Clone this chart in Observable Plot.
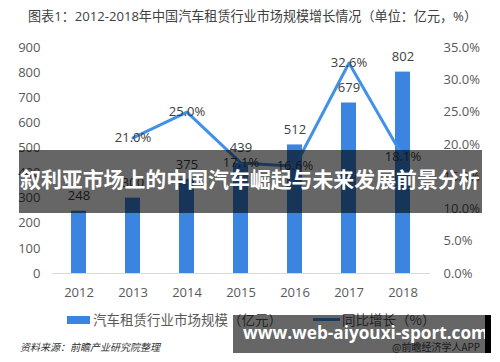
<!DOCTYPE html>
<html>
<head>
<meta charset="utf-8">
<script src="https://cdn.jsdelivr.net/npm/d3@7"></script>
<script src="https://cdn.jsdelivr.net/npm/@observablehq/plot@0.6"></script>
<style>
  html, body { margin: 0; padding: 0; background: #fff; }
  #root { position: relative; width: 500px; height: 362px; overflow: hidden; font-family: "Open Sans", "Noto Sans CJK SC", sans-serif; }
  #title { position: absolute; left: 28px; top: 6px; font-size: 13.1px; color: #404040; white-space: nowrap; font-family: "Open Sans", "Noto Sans CJK SC", sans-serif; }
  #chart { position: absolute; left: 0; top: 0; }
  .legend { position: absolute; top: 309px; font-size: 13.5px; color: #595959; white-space: nowrap; font-family: "Noto Sans CJK SC", sans-serif; }
  .swatch { position: absolute; }
  #source { position: absolute; left: 20px; top: 339px; font-size: 10px; color: #333; font-style: italic; white-space: nowrap; font-family: "Noto Sans CJK SC", sans-serif; }
  #app { position: absolute; left: 392px; top: 339px; font-size: 10px; color: #444; white-space: nowrap; font-family: "Noto Sans CJK SC", sans-serif; }
  #band1 { position: absolute; left: 19px; top: 150px; width: 463px; height: 63px; background: rgba(0,0,0,0.6); }
  #band1 span { position: absolute; left: 1px; top: 15px; font-size: 20.9px; font-weight: bold; color: #fff; white-space: nowrap; line-height: 1.3; font-family: "Noto Sans CJK SC", sans-serif; }
  #band2 { position: absolute; left: 233px; top: 315px; width: 252px; height: 38px; background: rgba(0,0,0,0.6); }
  #strip { position: absolute; left: 485px; top: 315px; width: 6px; height: 38px; background: #000; }
  #band2 span { position: absolute; left: 10px; top: 8px; font-size: 17.2px; font-weight: bold; color: #fff; white-space: nowrap; line-height: 1.2; font-family: "Open Sans", sans-serif; }
</style>
</head>
<body>
<div id="root">
  <div id="chart"></div>
  <div id="title">图表1：2012-2018年中国汽车租赁行业市场规模增长情况（单位：亿元，%）</div>
  <div class="swatch" id="sw1" style="left:67px; top:316px; width:23px; height:8px;"></div>
  <div class="legend" style="left:93px;">汽车租赁行业市场规模（亿元）</div>
  <div class="swatch" id="sw2" style="left:313px; top:318px; width:27px; height:3px;"></div>
  <div class="legend" style="left:342px;">同比增长（%）</div>
  <div id="source">资料来源：前瞻产业研究院整理</div>
  <div id="app">@前瞻经济学人APP</div>
  <div id="band1"><span>叙利亚市场上的中国汽车崛起与未来发展前景分析</span></div>
  <div id="band2"><span>www.web-aiyouxi-sport.com</span></div>
  <div id="strip"></div>
</div>
<script>
// ---- data ----
const years = ["2012", "2013", "2014", "2015", "2016", "2017", "2018"];
const marketSize = [248, 300, 375, 439, 512, 679, 802];
const growthYears = ["2013", "2014", "2015", "2016", "2017", "2018"];
const growthPct = [21.0, 25.0, 17.1, 16.6, 32.6, 18.1];
const leftTicks = [0, 100, 200, 300, 400, 500, 600, 700, 800, 900];
const rightTicks = [0, 5, 10, 15, 20, 25, 30, 35];

const barColor = "#3b84df";
const lineColor = "#4191e8";
document.getElementById("sw1").style.background = barColor;
document.getElementById("sw2").style.background = lineColor;

const bars = years.map((y, i) => ({year: y, value: marketSize[i]}));
const growth = growthYears.map((y, i) => ({year: y, pct: growthPct[i]}));

// secondary (percentage) axis mapped onto the primary scale domain
const leftMax = 900, rightMax = 35;
const k = leftMax / rightMax;

const chart = Plot.plot({
  width: 500,
  height: 310,
  marginTop: 47,
  marginBottom: 37,
  marginLeft: 52,
  marginRight: 70,
  x: {domain: years, paddingInner: 0.72, paddingOuter: 0.36, label: null},
  y: {domain: [0, leftMax], label: null},
  style: {fontFamily: "'Open Sans', 'Noto Sans CJK SC', sans-serif", fontSize: "13px", color: "#595959", background: "transparent", overflow: "visible"},
  marks: [
    Plot.axisX({tickSize: 0, tickPadding: 14, label: null, fontSize: 13}),
    Plot.axisY(leftTicks, {anchor: "left", tickSize: 0, tickPadding: 12, label: null, fontSize: 13}),
    Plot.axisY(rightTicks.map(t => t * k), {anchor: "right", tickSize: 0, tickPadding: 13, label: null, fontSize: 13,
      tickFormat: d => (d / k).toFixed(1) + "%"}),
    Plot.ruleY([0], {stroke: "#d9d9d9", strokeWidth: 1}),
    Plot.barY(bars, {x: "year", y: "value", fill: barColor}),
    Plot.line(growth, {x: "year", y: d => d.pct * k, stroke: lineColor, strokeWidth: 3, strokeLinejoin: "round"}),
    Plot.text(bars, {x: "year", y: "value", text: d => String(d.value), dy: -15, fill: "#404040", fontSize: 13}),
    Plot.text(growth, {x: "year", y: d => d.pct * k, text: d => d.pct.toFixed(1) + "%", fill: "#404040", fontSize: 13})
  ]
});
document.getElementById("chart").appendChild(chart);
</script>
</body>
</html>
